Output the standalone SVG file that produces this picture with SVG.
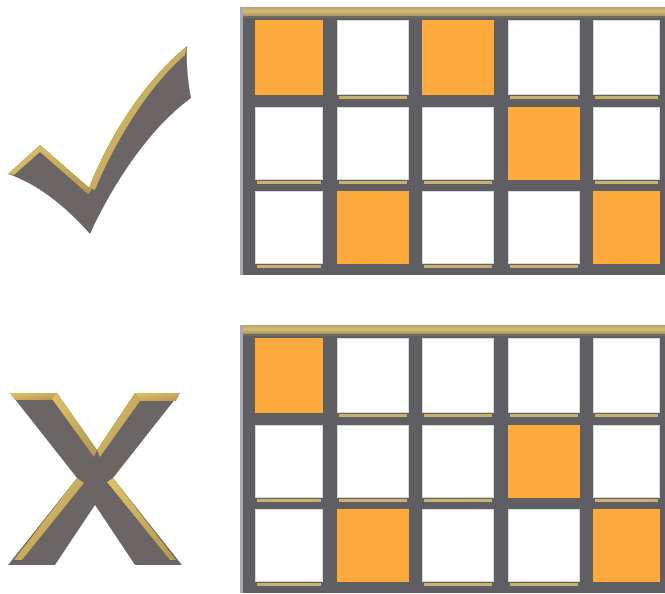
<svg xmlns="http://www.w3.org/2000/svg" width="665" height="594" viewBox="0 0 665 594">
<defs>
<linearGradient id="goldband" x1="0" y1="0" x2="0" y2="1">
<stop offset="0" stop-color="#b9a364"/>
<stop offset="0.5" stop-color="#d3bd7a"/>
<stop offset="1" stop-color="#a89460"/>
</linearGradient>
<linearGradient id="goldedge" x1="0" y1="0" x2="1" y2="1">
<stop offset="0" stop-color="#e0c46a"/>
<stop offset="1" stop-color="#b39850"/>
</linearGradient>
<g id="gridtpl">
<rect x="243" y="0" width="422" height="268" fill="#5e5e63"/>
<rect x="240" y="0" width="3" height="268" fill="#a9a9ad"/>
<rect x="243" y="0" width="422" height="9" fill="url(#goldband)"/>
<rect x="243" y="9" width="422" height="2" fill="#6e6a5c"/>
</g>
</defs>
<style>
.body{fill:#6b6565}
.gold{fill:url(#goldedge)}
.w{fill:#ffffff;stroke:#d8d8d8;stroke-width:1}
.o{fill:#fbaa3b}
.strip{fill:#c7b26e}
</style>

<g id="check">
<path class="body" d="M8,174 L40,145 L89,188 C108,140 140,85 187,46 C186,62 188,82 191,98 C150,128 114,182 90,234 C65,205 35,183 8,174 Z"/>
<path class="gold" d="M8,174 L40,145 L92,190 L88,194 L40,152 L14,175 Z"/>
<path class="gold" d="M89,188 C108,140 140,85 187,46 L185,55 C145,90 114,145 95,190 Z"/>
</g>

<g id="cross">
<path class="body" d="M10,393 L57,393 L97,450 L135,393 L180,393 L113,478 L182,565 L135,565 L95,505 L55,565 L8,565 L77,478 Z"/>
<path class="gold" d="M10,393 L57,393 L52,400 L16,400 Z"/>
<path class="gold" d="M57,393 L97,450 L94,457 L52,399 Z"/>
<path class="gold" d="M135,393 L180,393 L176,401 L140,401 Z"/>
<path class="gold" d="M135,393 L140,401 L100,457 L97,450 Z"/>
<path class="gold" d="M77,478 L84,483 L22,560 L14,560 Z"/>
<path class="gold" d="M107,482 L113,478 L176,560 L170,560 Z"/>
</g>

<g id="grid-top" transform="translate(0,7)">
<use href="#gridtpl"/>
<g transform="translate(0,-7)">
<rect class="o" x="255" y="20" width="68" height="75"/>
<rect class="w" x="337.5" y="20.5" width="71" height="74"/>
<rect class="o" x="422" y="20" width="72" height="75"/>
<rect class="w" x="508.5" y="20.5" width="71" height="74"/>
<rect class="w" x="593.5" y="20.5" width="66" height="74"/>
<rect class="strip" x="339" y="96" width="68" height="3"/>
<rect class="strip" x="510" y="96" width="68" height="3"/>
<rect class="strip" x="595" y="96" width="63" height="3"/>

<rect class="w" x="255.5" y="107.5" width="67" height="72"/>
<rect class="w" x="337.5" y="107.5" width="71" height="72"/>
<rect class="w" x="422.5" y="107.5" width="71" height="72"/>
<rect class="o" x="508" y="107" width="72" height="73"/>
<rect class="w" x="593.5" y="107.5" width="66" height="72"/>
<rect class="strip" x="257" y="181" width="64" height="3"/>
<rect class="strip" x="339" y="181" width="68" height="3"/>
<rect class="strip" x="424" y="181" width="68" height="3"/>
<rect class="strip" x="595" y="181" width="63" height="3"/>

<rect class="w" x="255.5" y="191.5" width="67" height="72"/>
<rect class="o" x="337" y="191" width="72" height="73"/>
<rect class="w" x="422.5" y="191.5" width="71" height="72"/>
<rect class="w" x="508.5" y="191.5" width="71" height="72"/>
<rect class="o" x="593" y="191" width="67" height="73"/>
<rect class="strip" x="257" y="265" width="64" height="3"/>
<rect class="strip" x="424" y="265" width="68" height="3"/>
<rect class="strip" x="510" y="265" width="68" height="3"/>
</g>
</g>

<g id="grid-bottom" transform="translate(0,325)">
<use href="#gridtpl"/>
<g transform="translate(0,-7)">
<rect class="o" x="255" y="20" width="68" height="75"/>
<rect class="w" x="337.5" y="20.5" width="71" height="74"/>
<rect class="w" x="422.5" y="20.5" width="71" height="74"/>
<rect class="w" x="508.5" y="20.5" width="71" height="74"/>
<rect class="w" x="593.5" y="20.5" width="66" height="74"/>
<rect class="strip" x="339" y="96" width="68" height="3"/>
<rect class="strip" x="424" y="96" width="68" height="3"/>
<rect class="strip" x="510" y="96" width="68" height="3"/>
<rect class="strip" x="595" y="96" width="63" height="3"/>

<rect class="w" x="255.5" y="107.5" width="67" height="72"/>
<rect class="w" x="337.5" y="107.5" width="71" height="72"/>
<rect class="w" x="422.5" y="107.5" width="71" height="72"/>
<rect class="o" x="508" y="107" width="72" height="73"/>
<rect class="w" x="593.5" y="107.5" width="66" height="72"/>
<rect class="strip" x="257" y="181" width="64" height="3"/>
<rect class="strip" x="339" y="181" width="68" height="3"/>
<rect class="strip" x="424" y="181" width="68" height="3"/>
<rect class="strip" x="595" y="181" width="63" height="3"/>

<rect class="w" x="255.5" y="191.5" width="67" height="72"/>
<rect class="o" x="337" y="191" width="72" height="73"/>
<rect class="w" x="422.5" y="191.5" width="71" height="72"/>
<rect class="w" x="508.5" y="191.5" width="71" height="72"/>
<rect class="o" x="593" y="191" width="67" height="73"/>
<rect class="strip" x="257" y="265" width="64" height="3"/>
<rect class="strip" x="424" y="265" width="68" height="3"/>
<rect class="strip" x="510" y="265" width="68" height="3"/>
</g>
</g>
</svg>
